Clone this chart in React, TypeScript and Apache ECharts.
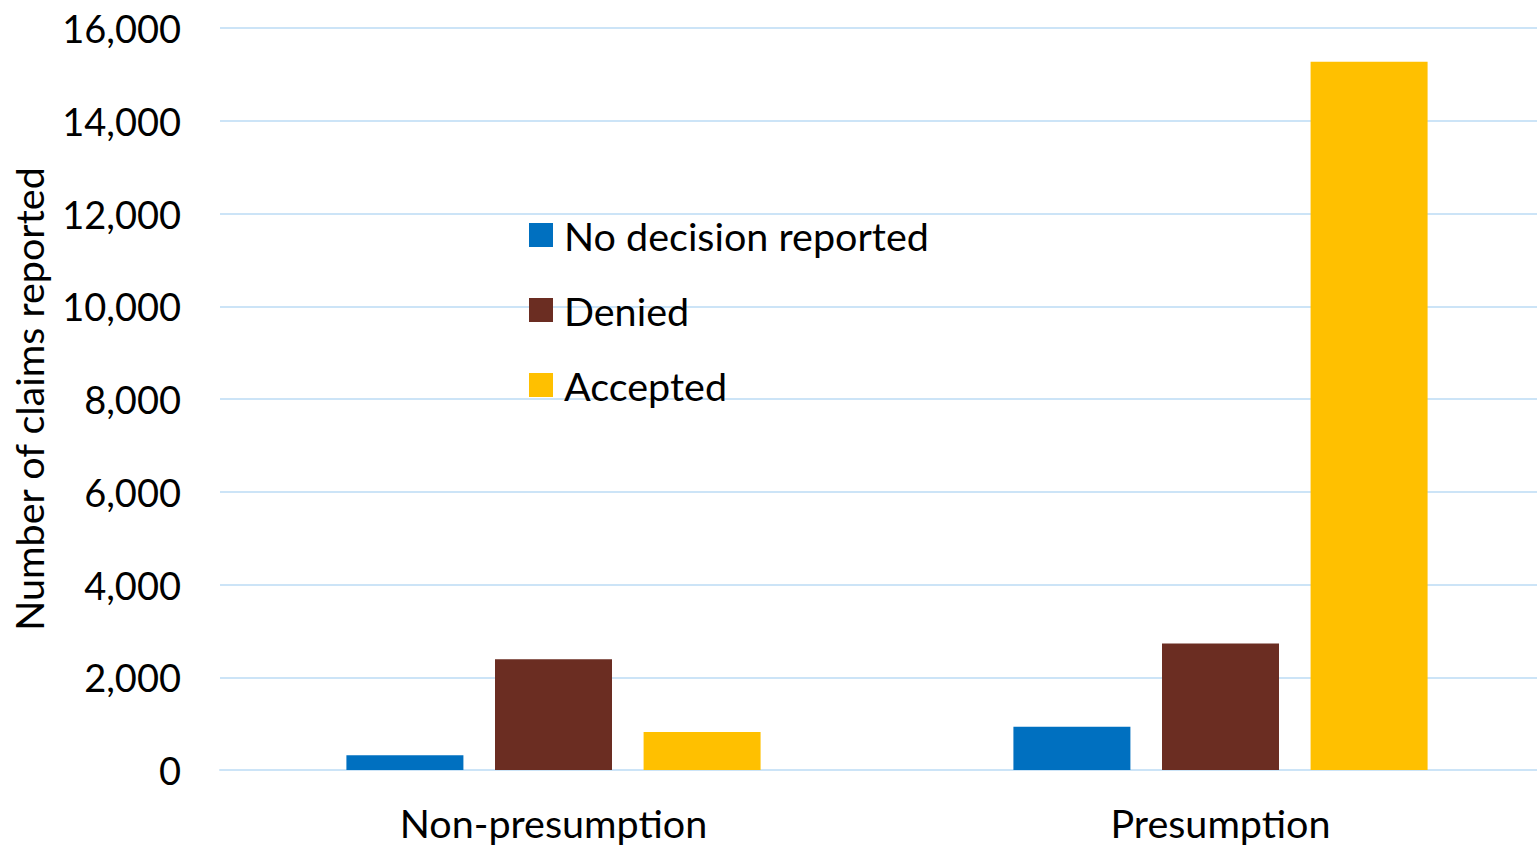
import React, { useEffect, useRef } from "react";
import * as echarts from "echarts";

const categories = ["Non-presumption", "Presumption"];
const seriesNames = ["No decision reported", "Denied", "Accepted"];
const noDecision = [320, 930];
const denied = [2390, 2730];
const accepted = [820, 15270];
const colors = ["#0070C0", "#6B2D22", "#FFC000"];
const yTicks = { min: 0, max: 16000, interval: 2000 };

export default function App() {
  const ref = useRef<HTMLDivElement>(null);
  useEffect(() => {
    if (!ref.current) return;
    const chart = echarts.init(ref.current, null, { renderer: "svg" });
    const font = "Lato, 'Open Sans', sans-serif";
    const values = [noDecision, denied, accepted];
    chart.setOption({
      animation: false,
      backgroundColor: "#ffffff",
      textStyle: { fontFamily: font },
      grid: {
        left: 220,
        right: -17,
        top: 28,
        bottom: 75,
        containLabel: false,
        outerBoundsMode: "none",
      },
      legend: {
        orient: "vertical",
        left: 524,
        top: 210,
        itemWidth: 24,
        itemHeight: 24,
        itemGap: 35,
        icon: "rect",
        data: seriesNames,
        textStyle: { fontFamily: font, fontSize: 39.5, color: "#000", lineHeight: 40, padding: [0, 0, 0, 6] },
      },
      xAxis: {
        type: "category",
        data: categories,
        axisLine: { show: true, lineStyle: { color: "#CCE4F7", width: 2 } },
        axisTick: { show: false },
        axisLabel: { fontFamily: font, fontSize: 39.5, color: "#000", margin: 33, lineHeight: 38 },
      },
      yAxis: {
        type: "value",
        min: yTicks.min,
        max: yTicks.max,
        interval: yTicks.interval,
        name: "Number of claims reported",
        nameLocation: "middle",
        nameGap: 172,
        nameTextStyle: { fontFamily: font, fontSize: 39.5, color: "#000", lineHeight: 40 },
        axisLine: { show: false },
        axisTick: { show: false },
        splitLine: { lineStyle: { color: "#CCE4F7", width: 2 } },
        axisLabel: {
          fontFamily: font,
          fontSize: 38,
          color: "#000",
          margin: 39,
          padding: [0, 0, 5, 0],
          formatter: (v: number) => v.toLocaleString("en-US"),
        },
      },
      series: seriesNames.map((name, i) => ({
        name,
        type: "bar",
        data: values[i],
        barWidth: 117,
        barGap: "27%",
        itemStyle: { color: colors[i] },
      })),
    });
    return () => chart.dispose();
  }, []);
  return (
    <div
      ref={ref}
      style={{ position: "fixed", left: 0, top: 0, width: 1537, height: 845 }}
    />
  );
}
